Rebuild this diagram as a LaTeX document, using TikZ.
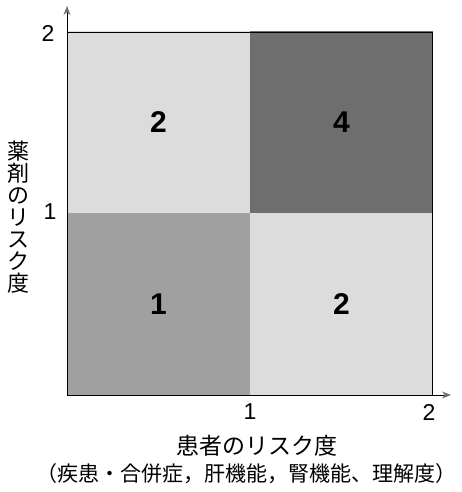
\documentclass[tikz,border=0pt]{standalone}
\usepackage{fontspec}
\setmainfont{Liberation Sans}
\newfontfamily\jpfont{Noto Sans CJK JP}
\usepackage{xcolor}
\usepackage{tikz}
\usetikzlibrary{arrows.meta,positioning}
\definecolor{risklight}{HTML}{DCDCDC}
\definecolor{riskmid}{HTML}{A0A0A0}
\definecolor{riskdark}{HTML}{6E6E6E}
\definecolor{axisgray}{HTML}{707070}

\begin{document}
\begin{tikzpicture}[x=1pt,y=1pt,
  quad/.style={minimum width=182.5pt,minimum height=181.5pt,inner sep=0pt,font=\fontsize{30}{30}\selectfont\bfseries},
  axis/.style={-{Stealth[length=9pt,width=7pt,color=axisgray]},line width=0.8pt},
  tick/.style={font=\fontsize{23}{23}\selectfont,inner sep=0pt},
  jplabel/.style={font=\jpfont\fontsize{22}{22}\selectfont,inner sep=0pt,align=center}
]
\useasboundingbox (0,0) rectangle (461,492);
\coordinate (origin) at (67,97);
\coordinate (corner) at (432,460);
\coordinate (ytip) at (67,486);
\coordinate (xtip) at (451,97);
% quadrants
\node[quad,fill=riskmid,anchor=south west] (lowlow) at (origin) {1};
\node[quad,fill=risklight,anchor=south west] (highlow) at (lowlow.south east) {2};
\node[quad,fill=risklight,anchor=south west] (lowhigh) at (lowlow.north west) {2};
\node[quad,fill=riskdark,anchor=south west] (highhigh) at (lowlow.north east) {4};
\draw[line width=0.8pt] (origin) rectangle (corner);
% axes
\draw[axis] (origin) -- (ytip);
\draw[axis] (origin) -- (xtip);
\node[tick] (ytwo) at (48,459) {2};
\node[tick] (yone) at (50,280) {1};
\node[tick] (xone) at (250,80) {1};
\node[tick] (xtwo) at (429,80) {2};
\node[jplabel,font=\jpfont\fontsize{22}{22}\selectfont] (ylabel) at (18,275) {薬\\剤\\の\\リ\\ス\\ク\\度};
\node[jplabel,font=\jpfont\fontsize{23}{23}\selectfont] (xlabel) at (257,46) {患者のリスク度};
\node[jplabel,font=\jpfont\fontsize{21}{21}\selectfont] (xnote) at (246,18) {（疾患・合併症，肝機能，腎機能、理解度）};
\end{tikzpicture}
\end{document}
